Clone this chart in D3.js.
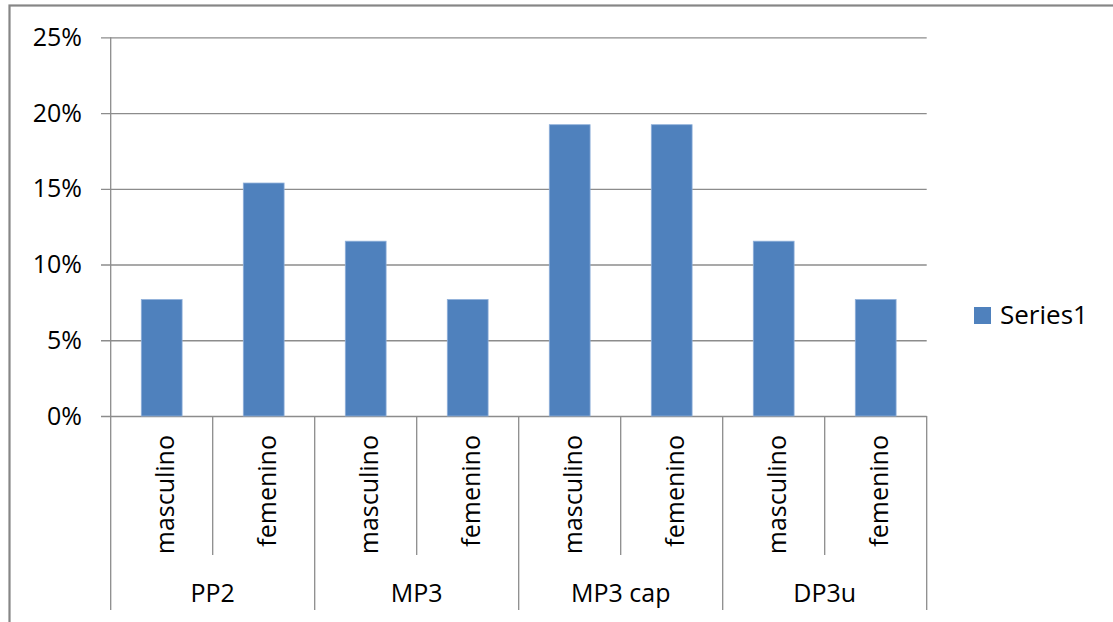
<!DOCTYPE html>
<html>
<head>
<meta charset="utf-8">
<script src="https://cdn.jsdelivr.net/npm/d3@7"></script>
<style>
  html, body { margin: 0; padding: 0; background: #fff; }
  svg { display: block; }
  text { font-family: "Open Sans", "Liberation Sans", sans-serif; fill: #000; }
</style>
</head>
<body>
<svg id="chart" width="1113" height="622"></svg>
<script>
// Chart data
const groups = ["PP2", "MP3", "MP3 cap", "DP3u"];
const sexes = ["masculino", "femenino"];
const series1 = [0.0769, 0.1538, 0.1154, 0.0769, 0.1923, 0.1923, 0.1154, 0.0769];
const yTicks = [0, 0.05, 0.10, 0.15, 0.20, 0.25];
const seriesName = "Series1";

const categories = [];
groups.forEach(g => sexes.forEach(s => categories.push({ group: g, sex: s, key: g + "|" + s })));
categories.forEach((c, i) => { c.value = series1[i]; });

const svg = d3.select("#chart");
const plot = { left: 110.7, right: 926.7, top: 37.3, bottom: 416 };
const fontSize = 25;

const x = d3.scaleBand()
  .domain(categories.map(c => c.key))
  .range([plot.left, plot.right])
  .paddingInner(0.6)
  .paddingOuter(0.3);
const step = x.step();

const y = d3.scaleLinear().domain([0, 0.25]).range([plot.bottom, plot.top]);

const gridColor = "#8c8c8c";

// Outer chart frame
svg.append("rect")
  .attr("x", 9.5).attr("y", 5.5)
  .attr("width", 1200).attr("height", 700)
  .attr("fill", "none")
  .attr("stroke", "#868686")
  .attr("stroke-width", 2.2);

// Horizontal gridlines with tick labels (via axis)
const yAxis = d3.axisLeft(y)
  .tickValues(yTicks)
  .tickFormat(d3.format(".0%"))
  .tickSize(-(plot.right - plot.left))
  .tickPadding(20);

const yg = svg.append("g")
  .attr("transform", `translate(${plot.left},0)`)
  .call(yAxis);
yg.select(".domain").remove();
yg.selectAll(".tick line")
  .attr("x1", -(plot.left - 101))
  .attr("stroke", gridColor)
  .attr("stroke-width", 1.3);
yg.selectAll(".tick text")
  .attr("x", 82 - plot.left)
  .attr("font-size", fontSize)
  .attr("font-family", "'Open Sans', sans-serif")
  .attr("fill", "#000");

// Vertical value axis line
svg.append("line")
  .attr("x1", plot.left).attr("x2", plot.left)
  .attr("y1", plot.top).attr("y2", plot.bottom)
  .attr("stroke", gridColor).attr("stroke-width", 1.3);

// Bars
svg.append("g").selectAll("rect")
  .data(categories)
  .join("rect")
  .attr("x", d => x(d.key))
  .attr("width", x.bandwidth())
  .attr("y", d => y(d.value))
  .attr("height", d => y(0) - y(d.value))
  .attr("fill", "#4f81bd")
  .attr("stroke", "#8fb0da")
  .attr("stroke-width", 0.8);

// Category separators: short ones between sexes, long ones between groups
const sep = svg.append("g");
d3.range(categories.length + 1).forEach(i => {
  const xx = plot.left + i * step;
  const isGroupEdge = i % sexes.length === 0;
  sep.append("line")
    .attr("x1", xx).attr("x2", xx)
    .attr("y1", plot.bottom)
    .attr("y2", isGroupEdge ? 610 : 555)
    .attr("stroke", gridColor)
    .attr("stroke-width", 1.3);
});

// Rotated sex labels
svg.append("g").selectAll("text")
  .data(categories)
  .join("text")
  .attr("transform", d => `translate(${x(d.key) + x.bandwidth() / 2 + 12.5},435) rotate(-90)`)
  .attr("text-anchor", "end")
  .attr("font-size", fontSize)
  .text(d => d.sex);

// Group labels
svg.append("g").selectAll("text")
  .data(groups)
  .join("text")
  .attr("x", (g, i) => plot.left + (i * sexes.length + sexes.length / 2) * step)
  .attr("y", 602)
  .attr("text-anchor", "middle")
  .attr("font-size", fontSize)
  .text(g => g);

// Legend
const legend = svg.append("g").attr("transform", "translate(974,307)");
legend.append("rect")
  .attr("width", 17).attr("height", 17)
  .attr("fill", "#4f81bd");
legend.append("text")
  .attr("x", 26).attr("y", 16.5)
  .attr("font-size", 26)
  .text(seriesName);
</script>
</body>
</html>
